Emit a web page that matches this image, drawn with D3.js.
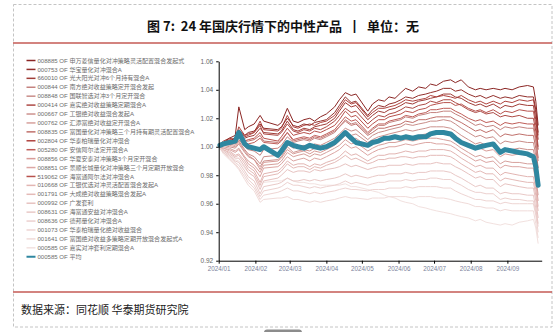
<!DOCTYPE html>
<html>
<head>
<meta charset="utf-8">
<script src="https://cdn.jsdelivr.net/npm/d3@7"></script>
<style>
  html, body { margin: 0; padding: 0; background: #fff; }
  svg { display: block; }
  .pre { white-space: pre; }
</style>
</head>
<body>
<svg id="chart" width="557" height="332"></svg>
<script>
// Observation dates shared by every series
const dates = [
  "2024-01-02","2024-01-05","2024-01-10","2024-01-15","2024-01-18","2024-01-23","2024-01-26","2024-01-31","2024-02-05","2024-02-08",
  "2024-02-20","2024-02-23","2024-02-28","2024-03-04","2024-03-08","2024-03-13","2024-03-18","2024-03-22","2024-03-27","2024-04-01",
  "2024-04-08","2024-04-12","2024-04-17","2024-04-22","2024-04-26","2024-05-06","2024-05-10","2024-05-15","2024-05-20","2024-05-24",
  "2024-05-29","2024-06-03","2024-06-07","2024-06-13","2024-06-18","2024-06-24","2024-06-28","2024-07-03","2024-07-09","2024-07-15",
  "2024-07-19","2024-07-24","2024-07-30","2024-08-05","2024-08-09","2024-08-14","2024-08-20","2024-08-26","2024-08-30","2024-09-05",
  "2024-09-11","2024-09-18","2024-09-23","2024-09-25","2024-09-27"
];

const fundCodes = [
  "008885","000753","660010","000844","008848","000414","000667","000762","008835","002804","005280",
  "008856","008851","519062","010668","001791","000992","008631","008636","001073","001641","000585"
];

const fundNames = [
  "申万菱信量化对冲策略灵活配置混合发起式",
  "华宝量化对冲混合A",
  "光大阳光对冲6个月持有混合A",
  "南方绝对收益策略定开混合发起",
  "国联智选对冲3个月定开混合",
  "嘉实绝对收益策略定期混合A",
  "工银绝对收益混合发起A",
  "汇添富绝对收益定开混合A",
  "富国量化对冲策略三个月持有期灵活配置混合A",
  "华泰柏瑞量化对冲混合",
  "安信阿尔法定开混合A",
  "华夏安泰对冲策略3个月定开混合",
  "景顺长城量化对冲策略三个月定期开放混合",
  "海富通阿尔法对冲混合A",
  "工银优选对冲灵活配置混合发起A",
  "大成绝对收益策略混合发起A",
  "广发套利",
  "海富通安益对冲混合A",
  "德邦量化对冲混合A",
  "华泰柏瑞量化绝对收益混合",
  "富国绝对收益多策略定期开放混合发起式A",
  "嘉实对冲套利定期混合A"
];

const avgCode = "000585";
const avgName = "平均";

// Net value series (one per fund, same order as fundCodes)
const nav01 = [
  1.000,1.003,1.006,1.008,1.028,1.012,1.014,1.016,1.022,1.018,
  1.015,1.017,1.027,1.018,1.017,1.019,1.020,1.018,1.021,1.023,
  1.028,1.033,1.038,1.036,1.037,1.025,1.030,1.033,1.032,1.035,
  1.034,1.038,1.041,1.039,1.042,1.041,1.044,1.043,1.046,1.047,
  1.045,1.047,1.042,1.040,1.041,1.040,1.041,1.040,1.041,1.040,
  1.042,1.043,1.042,1.032,1.015];
const nav02 = [
  1.001,1.002,1.004,1.006,1.012,1.008,1.010,1.011,1.016,1.013,
  1.012,1.014,1.020,1.015,1.014,1.016,1.015,1.017,1.018,1.019,
  1.024,1.029,1.035,1.031,1.032,1.022,1.026,1.029,1.028,1.030,
  1.031,1.033,1.035,1.034,1.036,1.037,1.038,1.039,1.041,1.041,
  1.039,1.040,1.037,1.035,1.036,1.034,1.036,1.034,1.035,1.034,
  1.036,1.035,1.035,1.026,1.010];
const nav03 = [
  1.000,1.001,1.003,1.004,1.009,1.006,1.007,1.008,1.013,1.010,
  1.009,1.011,1.018,1.012,1.011,1.013,1.012,1.014,1.015,1.016,
  1.020,1.025,1.031,1.028,1.029,1.019,1.022,1.025,1.024,1.026,
  1.027,1.029,1.031,1.030,1.032,1.033,1.034,1.035,1.037,1.037,
  1.035,1.034,1.031,1.029,1.030,1.028,1.030,1.027,1.029,1.028,
  1.030,1.029,1.029,1.019,1.005];
const nav04 = [
  1.001,1.002,1.003,1.002,1.005,1.000,0.998,0.997,0.994,0.998,
  0.999,1.001,1.007,1.003,1.004,1.005,1.004,1.006,1.005,1.007,
  1.010,1.014,1.019,1.016,1.017,1.009,1.012,1.015,1.015,1.017,
  1.018,1.019,1.021,1.020,1.022,1.023,1.024,1.024,1.025,1.025,
  1.023,1.021,1.018,1.015,1.016,1.014,1.015,1.012,1.014,1.013,
  1.014,1.013,1.013,1.004,0.990];
const nav05 = [
  1.002,1.003,1.002,1.001,1.004,0.998,0.995,0.993,0.988,0.993,
  0.994,0.996,1.002,0.999,1.000,1.001,1.000,1.002,1.001,1.003,
  1.006,1.009,1.013,1.011,1.012,1.005,1.008,1.010,1.011,1.012,
  1.013,1.014,1.016,1.015,1.016,1.017,1.018,1.018,1.019,1.018,
  1.016,1.013,1.010,1.007,1.008,1.006,1.007,1.002,1.004,1.003,
  1.004,1.003,1.003,0.994,0.980];
const nav06 = [
  1.002,1.004,1.006,1.005,1.011,1.007,1.008,1.010,1.015,1.009,
  1.008,1.010,1.016,1.011,1.010,1.012,1.011,1.013,1.012,1.014,
  1.018,1.022,1.027,1.024,1.025,1.016,1.019,1.022,1.021,1.023,
  1.024,1.026,1.028,1.027,1.029,1.030,1.032,1.031,1.033,1.033,
  1.031,1.029,1.026,1.024,1.025,1.023,1.024,1.021,1.022,1.021,
  1.022,1.020,1.020,1.011,0.998];
const nav07 = [
  1.000,1.001,1.000,0.999,1.002,0.996,0.993,0.991,0.986,0.990,
  0.991,0.993,1.000,0.996,0.997,0.998,0.997,0.999,0.998,1.000,
  1.003,1.006,1.010,1.008,1.009,1.003,1.005,1.007,1.008,1.009,
  1.010,1.011,1.012,1.011,1.012,1.013,1.014,1.014,1.014,1.013,
  1.011,1.008,1.005,1.002,1.003,1.001,1.002,0.997,0.999,0.998,
  0.999,0.998,0.998,0.989,0.975];
const nav08 = [
  1.001,1.000,0.999,0.997,0.999,0.993,0.990,0.987,0.982,0.987,
  0.988,0.990,0.996,0.993,0.994,0.995,0.993,0.995,0.994,0.996,
  0.999,1.001,1.005,1.002,1.003,0.997,0.999,1.001,1.002,1.003,
  1.003,1.004,1.005,1.004,1.005,1.006,1.006,1.006,1.005,1.004,
  1.002,0.999,0.996,0.993,0.994,0.992,0.993,0.988,0.990,0.989,
  0.989,0.988,0.988,0.979,0.966];
const nav09 = [
  1.002,1.003,1.004,1.004,1.008,1.004,1.004,1.005,1.008,1.004,
  1.003,1.005,1.010,1.004,1.005,1.006,1.005,1.007,1.006,1.008,
  1.011,1.014,1.018,1.015,1.016,1.008,1.010,1.013,1.013,1.014,
  1.015,1.016,1.018,1.017,1.019,1.019,1.020,1.021,1.021,1.021,
  1.019,1.017,1.014,1.011,1.012,1.010,1.012,1.007,1.009,1.008,
  1.009,1.008,1.008,0.999,0.985];
const nav10 = [
  1.001,1.003,1.005,1.006,1.014,1.008,1.009,1.010,1.018,1.012,
  1.011,1.013,1.022,1.014,1.013,1.015,1.016,1.015,1.017,1.018,
  1.022,1.027,1.033,1.030,1.031,1.021,1.024,1.027,1.027,1.028,
  1.029,1.031,1.033,1.032,1.033,1.034,1.036,1.035,1.036,1.035,
  1.034,1.036,1.033,1.031,1.032,1.030,1.032,1.030,1.032,1.031,
  1.033,1.032,1.033,1.024,1.008];
const nav11 = [
  1.001,1.003,1.004,1.003,1.007,1.003,1.002,1.003,1.006,1.003,
  1.002,1.004,1.010,1.005,1.006,1.007,1.006,1.008,1.007,1.009,
  1.012,1.016,1.021,1.018,1.019,1.010,1.013,1.016,1.016,1.018,
  1.019,1.020,1.022,1.021,1.023,1.024,1.026,1.026,1.027,1.027,
  1.025,1.023,1.020,1.018,1.019,1.017,1.018,1.015,1.017,1.016,
  1.017,1.016,1.016,1.006,0.992];
const nav12 = [
  1.001,1.002,1.001,1.000,1.003,0.997,0.994,0.991,0.984,0.989,
  0.990,0.992,0.998,0.995,0.996,0.997,0.995,0.997,0.996,0.998,
  1.001,1.004,1.008,1.005,1.006,1.000,1.002,1.004,1.005,1.006,
  1.006,1.007,1.008,1.007,1.008,1.009,1.010,1.010,1.009,1.008,
  1.006,1.003,1.000,0.998,0.999,0.997,0.998,0.993,0.995,0.994,
  0.995,0.994,0.994,0.985,0.972];
const nav13 = [
  1.000,0.999,0.998,0.996,0.998,0.992,0.988,0.985,0.979,0.985,
  0.986,0.988,0.993,0.990,0.991,0.992,0.990,0.992,0.991,0.993,
  0.996,0.998,1.002,0.999,1.000,0.994,0.996,0.998,0.999,1.000,
  1.000,1.001,1.002,1.001,1.002,1.003,1.003,1.002,1.002,1.001,
  0.999,0.996,0.993,0.990,0.991,0.989,0.990,0.985,0.987,0.986,
  0.986,0.985,0.985,0.975,0.962];
const nav14 = [
  1.000,1.002,1.004,1.005,1.008,1.004,1.005,1.006,1.010,1.006,
  1.004,1.007,1.013,1.008,1.009,1.010,1.009,1.011,1.010,1.012,
  1.015,1.019,1.025,1.021,1.022,1.013,1.016,1.019,1.019,1.021,
  1.022,1.023,1.025,1.024,1.026,1.027,1.029,1.030,1.031,1.031,
  1.029,1.030,1.027,1.025,1.026,1.024,1.026,1.023,1.025,1.024,
  1.026,1.025,1.025,1.015,1.000];
const nav15 = [
  1.000,0.999,0.997,0.994,0.995,0.990,0.986,0.983,0.975,0.981,
  0.983,0.985,0.990,0.987,0.988,0.988,0.986,0.988,0.987,0.989,
  0.991,0.993,0.997,0.994,0.995,0.990,0.992,0.994,0.994,0.995,
  0.995,0.996,0.997,0.996,0.997,0.997,0.998,0.998,0.998,0.997,
  0.995,0.992,0.989,0.986,0.987,0.985,0.985,0.980,0.982,0.981,
  0.980,0.979,0.979,0.970,0.958];
const nav16 = [
  1.000,0.998,0.996,0.993,0.994,0.988,0.984,0.981,0.973,0.979,
  0.981,0.983,0.988,0.985,0.986,0.986,0.984,0.986,0.985,0.987,
  0.989,0.991,0.994,0.991,0.992,0.988,0.989,0.991,0.991,0.992,
  0.992,0.993,0.993,0.992,0.993,0.993,0.994,0.994,0.994,0.993,
  0.991,0.988,0.985,0.982,0.983,0.981,0.981,0.976,0.978,0.977,
  0.976,0.975,0.975,0.966,0.955];
const nav17 = [
  1.000,0.998,0.995,0.992,0.992,0.986,0.982,0.979,0.970,0.976,
  0.978,0.980,0.984,0.982,0.983,0.983,0.982,0.984,0.983,0.984,
  0.985,0.986,0.988,0.986,0.987,0.984,0.985,0.986,0.986,0.987,
  0.987,0.987,0.988,0.987,0.988,0.988,0.988,0.989,0.988,0.988,
  0.986,0.984,0.981,0.978,0.979,0.977,0.977,0.972,0.974,0.973,
  0.972,0.971,0.971,0.962,0.950];
const nav18 = [
  1.000,0.997,0.994,0.990,0.989,0.983,0.979,0.976,0.967,0.972,
  0.974,0.975,0.978,0.976,0.976,0.977,0.976,0.977,0.976,0.977,
  0.978,0.979,0.981,0.979,0.980,0.978,0.979,0.980,0.980,0.981,
  0.981,0.981,0.982,0.981,0.982,0.982,0.983,0.983,0.983,0.982,
  0.980,0.978,0.975,0.972,0.973,0.971,0.971,0.967,0.968,0.967,
  0.967,0.966,0.966,0.957,0.946];
const nav19 = [
  0.999,0.996,0.993,0.989,0.987,0.981,0.977,0.973,0.965,0.969,
  0.971,0.972,0.975,0.973,0.973,0.972,0.971,0.972,0.971,0.972,
  0.973,0.974,0.976,0.974,0.975,0.973,0.974,0.975,0.975,0.976,
  0.976,0.976,0.977,0.976,0.977,0.977,0.978,0.978,0.977,0.977,
  0.975,0.973,0.970,0.968,0.968,0.967,0.967,0.963,0.964,0.963,
  0.963,0.962,0.962,0.954,0.944];
const nav20 = [
  0.999,0.996,0.992,0.988,0.985,0.979,0.975,0.971,0.963,0.966,
  0.968,0.969,0.971,0.969,0.969,0.968,0.967,0.968,0.967,0.968,
  0.969,0.970,0.971,0.970,0.970,0.969,0.970,0.970,0.970,0.971,
  0.971,0.971,0.972,0.971,0.972,0.972,0.972,0.972,0.971,0.971,
  0.969,0.967,0.965,0.963,0.963,0.962,0.962,0.960,0.961,0.960,
  0.960,0.960,0.960,0.952,0.940];
const nav21 = [
  0.999,0.995,0.991,0.987,0.984,0.977,0.973,0.969,0.961,0.963,
  0.964,0.964,0.965,0.963,0.963,0.962,0.961,0.962,0.961,0.962,
  0.963,0.964,0.965,0.964,0.964,0.963,0.964,0.964,0.964,0.965,
  0.965,0.965,0.965,0.964,0.965,0.965,0.965,0.964,0.964,0.963,
  0.962,0.961,0.960,0.958,0.958,0.957,0.957,0.955,0.956,0.955,
  0.955,0.955,0.955,0.946,0.936];
const nav22 = [
  0.999,0.997,0.994,0.991,0.990,0.985,0.982,0.979,0.972,0.975,
  0.976,0.976,0.978,0.976,0.975,0.975,0.974,0.974,0.973,0.973,
  0.973,0.973,0.974,0.972,0.972,0.970,0.969,0.968,0.966,0.965,
  0.964,0.962,0.961,0.960,0.958,0.957,0.956,0.955,0.954,0.953,
  0.952,0.951,0.950,0.948,0.949,0.947,0.946,0.945,0.946,0.945,
  0.947,0.948,0.949,0.943,0.932];

// Equal-weight average of the group
const navAvg = [
  1.001,1.002,1.003,1.004,1.010,1.002,1.000,0.999,0.998,1.000,
  0.994,0.997,1.003,1.001,1.000,0.999,1.001,1.000,0.999,1.000,
  1.003,1.006,1.010,1.006,1.003,1.001,1.003,1.004,1.006,1.006,
  1.007,1.006,1.007,1.006,1.007,1.007,1.009,1.010,1.010,1.009,
  1.006,1.003,1.001,0.999,1.000,1.001,1.002,0.996,0.998,0.997,
  0.996,0.995,0.993,0.986,0.973];

const yTickValues = [0.92, 0.94, 0.96, 0.98, 1.00, 1.02, 1.04, 1.06];

// Line colours, darkest red to palest pink, then the teal average
const fundPalette = [
  "#8b2624","#93302c","#a03c37","#c4837f","#c98d89","#ad4a45","#cd928e","#d6a09c","#c0706b","#b0443f","#bf5d58",
  "#d89c98","#dca6a3","#b8524d","#e2b5b2","#e4bab7","#e7c3c1","#e9c9c7","#ecd1cf","#eed5d3","#f0dbd9","#f2e1df"
];
const avgColor = "#2f87a0";

const navList = [nav01,nav02,nav03,nav04,nav05,nav06,nav07,nav08,nav09,nav10,nav11,
                 nav12,nav13,nav14,nav15,nav16,nav17,nav18,nav19,nav20,nav21,nav22];

const parse = d3.timeParse("%Y-%m-%d");
const dateObjs = dates.map(parse);

const funds = fundCodes.map((code, i) => ({
  code, name: fundNames[i], color: fundPalette[i],
  points: navList[i].map((v, j) => ({ date: dateObjs[j], value: v }))
}));
const avgSeries = {
  code: avgCode, name: avgName, color: avgColor,
  points: navAvg.map((v, j) => ({ date: dateObjs[j], value: v }))
};

const svg = d3.select("#chart");
const latin = "'Liberation Sans', Arial, 'Noto Sans CJK SC', sans-serif";
const cjk = "'Noto Sans CJK SC', 'Microsoft YaHei', sans-serif";

// Frame, title and rules
svg.append("rect")
  .attr("x", 13.5).attr("y", 4.5).attr("width", 538.5).attr("height", 322.5)
  .attr("fill", "none").attr("stroke", "#c4c4c4").attr("stroke-dasharray", "3,2");

svg.append("text")
  .attr("class", "pre")
  .attr("x", 283).attr("y", 30.5).attr("text-anchor", "middle")
  .attr("font-family", cjk).attr("font-weight", "bold").attr("font-size", 13)
  .attr("fill", "#111")
  .text("图 7:  24 年国庆行情下的中性产品  ┃  单位：无");

svg.append("line").attr("x1", 13).attr("x2", 552).attr("y1", 43).attr("y2", 43)
  .attr("stroke", "#c55a55").attr("stroke-width", 1.5);
svg.append("line").attr("x1", 13).attr("x2", 552).attr("y1", 292).attr("y2", 292)
  .attr("stroke", "#c55a55").attr("stroke-width", 1.5);

svg.append("text")
  .attr("x", 21).attr("y", 314)
  .attr("font-family", cjk).attr("font-size", 11).attr("fill", "#222")
  .text("数据来源：同花顺 华泰期货研究院");

// Scales
const x = d3.scaleTime()
  .domain([new Date(2024, 0, 1), new Date(2024, 8, 30)])
  .range([218.7, 541.7]);
const y = d3.scaleLinear()
  .domain([0.92, 1.06])
  .range([260.7, 61.3]);

// Series lines: palest first so the darker ones sit on top
const line = d3.line().x(d => x(d.date)).y(d => y(d.value));
const plot = svg.append("g");
funds.slice().reverse().forEach(f => {
  plot.append("path")
    .attr("d", line(f.points))
    .attr("fill", "none")
    .attr("stroke", f.color)
    .attr("stroke-width", 1)
    .attr("stroke-linejoin", "round");
});
plot.append("path")
  .attr("d", line(avgSeries.points))
  .attr("fill", "none")
  .attr("stroke", avgSeries.color)
  .attr("stroke-width", 5)
  .attr("stroke-linejoin", "round")
  .attr("stroke-linecap", "round");

// Axes
const yAxis = svg.append("g")
  .attr("transform", `translate(${x.range()[0]},0)`)
  .call(d3.axisLeft(y).tickValues(yTickValues).tickSize(2.5).tickSizeOuter(0)
        .tickFormat(d3.format(".2f")));
yAxis.selectAll("text").attr("font-family", latin).attr("font-size", 6.5).attr("fill", "#666");

const xAxis = svg.append("g")
  .attr("transform", `translate(0,${y.range()[0]})`)
  .call(d3.axisBottom(x).ticks(d3.timeMonth.every(1)).tickSize(3).tickSizeOuter(0)
        .tickFormat(d3.timeFormat("%Y/%m")));
xAxis.selectAll("text").attr("font-family", latin).attr("font-size", 6.3).attr("fill", "#7a7f99");

[yAxis, xAxis].forEach(g => {
  g.select(".domain").attr("stroke", "#000").attr("stroke-width", 1);
  g.selectAll(".tick line").attr("stroke", "#000");
});

// Legend
const legendItems = funds.concat([avgSeries]);
const legend = svg.append("g");
legendItems.forEach((d, i) => {
  const cy = 60.5 + i * 8.92;
  legend.append("line")
    .attr("x1", 26.5).attr("x2", 35.5).attr("y1", cy).attr("y2", cy)
    .attr("stroke", d.color).attr("stroke-width", d === avgSeries ? 2 : 1.5);
  legend.append("text")
    .attr("x", 37.5).attr("y", cy + 2.1)
    .attr("font-family", latin).attr("font-size", 6.05).attr("fill", "#6c6c6c")
    .text(`${d.code} OF ${d.name}`);
});

// Small tab at the lower edge
svg.append("rect")
  .attr("x", 264).attr("y", 329.5).attr("width", 38).attr("height", 6).attr("rx", 3)
  .attr("fill", "#8c8c8c");
</script>
</body>
</html>
